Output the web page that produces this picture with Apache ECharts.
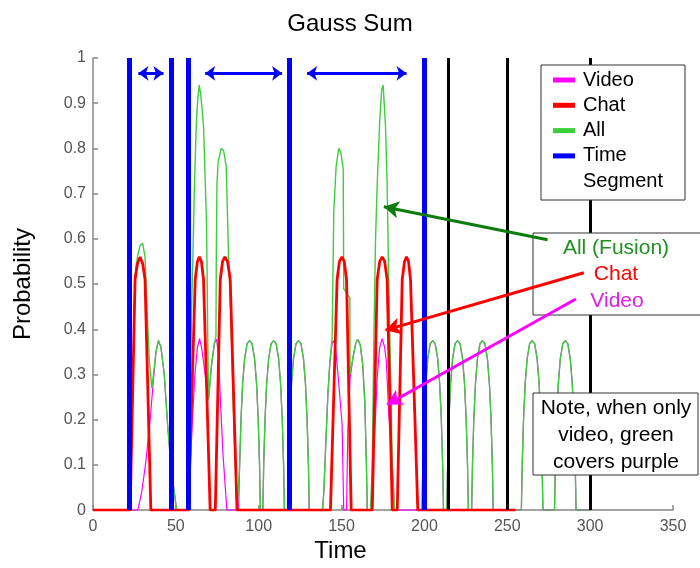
<!DOCTYPE html>
<html>
<head>
<meta charset="utf-8">
<script src="https://cdn.jsdelivr.net/npm/echarts@6/dist/echarts.min.js"></script>
<style>html,body{margin:0;padding:0;background:#fff;}#c{width:700px;height:568px;}</style>
</head>
<body>
<div id="c"></div>
<script>
// ---- data ----
const xRange = [0, 350];
const yRange = [0, 1];
const segmentTimes = [21.7, 47, 57.3, 118.3, 199.6];   // blue "Time Segment"
const blackTimes = [214.6, 250, 300];                  // black lines
const segmentSpans = [[27.4, 42.5], [67.7, 114.1], [129.2, 189.2]];
const spanLevel = 0.966;

// stretches where only video exists (All == Video)
const videoOnlyA = [
  [87.9,0],[88.5,0.1],[89.3,0.2],[90.3,0.28],[91.5,0.335],[93,0.368],[94.5,0.375],[96,0.368],[97.5,0.335],[98.7,0.28],[99.7,0.2],[100.5,0.1],[101,0],
  [102.5,0],[103,0.1],[103.8,0.2],[104.8,0.28],[106,0.335],[107.5,0.368],[109,0.375],[110.5,0.368],[112,0.335],[113.2,0.28],[114.2,0.2],[115,0.1],[115.5,0],
  [117.5,0],[118,0.1],[118.8,0.2],[119.8,0.28],[121,0.335],[122.5,0.368],[124,0.375],[125.5,0.368],[127,0.335],[128.2,0.28],[129.2,0.2],[130,0.1],[130.5,0]
];
const videoOnlyB = [
  [198.5,0],[199,0.1],[199.8,0.2],[200.8,0.28],[202,0.335],[203.5,0.368],[205,0.375],[206.5,0.368],[208,0.335],[209.2,0.28],[210.2,0.2],[211,0.1],[211.5,0],
  [213.5,0],[214,0.1],[214.8,0.2],[215.8,0.28],[217,0.335],[218.5,0.368],[220,0.375],[221.5,0.368],[223,0.335],[224.2,0.28],[225.2,0.2],[226,0.1],[226.5,0],
  [228.5,0],[229,0.1],[229.8,0.2],[230.8,0.28],[232,0.335],[233.5,0.368],[235,0.375],[236.5,0.368],[238,0.335],[239.2,0.28],[240.2,0.2],[241,0.1],[241.5,0],
  [258.5,0],[259,0.1],[259.8,0.2],[260.8,0.28],[262,0.335],[263.5,0.368],[265,0.375],[266.5,0.368],[268,0.335],[269.2,0.28],[270.2,0.2],[271,0.1],[271.5,0],
  [278.5,0],[279,0.1],[279.8,0.2],[280.8,0.28],[282,0.335],[283.5,0.368],[285,0.375],[286.5,0.368],[288,0.335],[289.2,0.28],[290.2,0.2],[291,0.1],[291.5,0],
  [300,0]
];

const videoData = [
  [0,0],[27,0],[29.4,0.04],[32,0.11],[34.5,0.2],[36.5,0.29],[38,0.35],[39.5,0.375],[41,0.36],[43,0.3],[45,0.19],[47,0.1],[49,0.04],[50.5,0],
  [57,0],[58.5,0.08],[60,0.2],[61.5,0.3],[63,0.36],[64.3,0.379],[65.5,0.36],[67,0.32],[68.6,0.27],[69.7,0.245],[71.5,0.32],[73.3,0.37],[74.6,0.378],[75.8,0.34],[76.8,0.25],[78.5,0.12],[80.8,0],
  ...videoOnlyA,
  [138.5,0],[139.3,0.04],[140.5,0.15],[141.8,0.26],[143,0.33],[144.3,0.37],[145.3,0.375],[146.5,0.355],[148.3,0.28],[150.3,0.19],[151.3,0],
  [153,0],[153.8,0.18],[155.1,0.29],[157,0.34],[158.5,0.368],[159.8,0.378],[161.3,0.365],[162.8,0.32],[164,0.24],[165,0.1],[165.5,0],
  [167.5,0],[169,0.1],[170.5,0.21],[171.5,0.295],[173,0.36],[174.5,0.379],[176,0.36],[177,0.33],[178.5,0.21],[180.6,0.1],[182,0],
  ...videoOnlyB
];

const chatData = [
  [0,0],[22.4,0],[25.4,0.51],[26.8,0.545],[28.4,0.56],[30,0.545],[31.4,0.51],[34.9,0],
  [57.6,0],[61.7,0.51],[63,0.55],[64.2,0.56],[65.4,0.55],[66.7,0.51],[70.7,0],
  [73.8,0],[76.8,0.51],[78.2,0.55],[79.6,0.56],[81.2,0.55],[82.8,0.51],[86.9,0],
  [143.3,0],[147.3,0.51],[148.7,0.55],[150.2,0.56],[151.6,0.55],[153,0.51],[155.8,0],
  [168.5,0],[171.5,0.51],[173,0.55],[174.5,0.56],[176,0.55],[177.5,0.51],[180.6,0],
  [183.6,0],[186.6,0.51],[188,0.55],[189.2,0.56],[190.4,0.55],[191.6,0.51],[196,0],
  [255,0]
];

const allData = [
  [0,0],[22.4,0],[24,0.26],[25.4,0.52],[26.8,0.56],[28.4,0.585],[30,0.59],[31.4,0.56],[32.5,0.45],[34,0.33],[35.5,0.27],[36.5,0.3],[38,0.35],[39.5,0.375],[41,0.36],[43,0.3],[45,0.19],[47,0.1],[49,0.04],[50.5,0],
  [57.6,0],[58.5,0.2],[59.5,0.45],[60.3,0.56],[61.1,0.7],[62.3,0.85],[63.2,0.91],[64.1,0.94],[65,0.92],[66.7,0.85],[68.3,0.66],[68.6,0.61],[69.2,0.4],[69.7,0.245],[71.5,0.32],[73.3,0.37],[74.2,0.385],[74.4,0.56],[74.8,0.72],[75.5,0.77],[77.4,0.8],[78.8,0.795],[80.4,0.76],[81.8,0.56],[83,0.45],[84.5,0.25],[85.8,0.1],[86.9,0],
  ...videoOnlyA,
  [138.5,0],[139.3,0.04],[140.5,0.15],[141.8,0.26],[143,0.33],[144.3,0.38],[144.9,0.55],[145.3,0.66],[146.7,0.76],[148.3,0.8],[149.6,0.79],[151,0.755],[151.3,0.49],[153,0.48],[155,0.47],[155.1,0.3],[157,0.34],[158.5,0.368],[159.8,0.378],[161.3,0.365],[162.8,0.32],[164,0.24],[165,0.1],[165.5,0],
  [167.5,0],[168.5,0.1],[169.5,0.38],[170.5,0.6],[171.5,0.72],[173,0.86],[174.2,0.93],[175.1,0.94],[176.5,0.85],[177.5,0.72],[178.5,0.49],[179.5,0.32],[180.6,0.1],[182,0],
  [183.6,0],[186.6,0.51],[188,0.55],[189.2,0.56],[190.4,0.55],[191.6,0.51],[196,0],
  ...videoOnlyB
];

// annotation arrows (data coords): [start, end]
const annoArrows = [
  {color: '#0d7d0d', from: [274.3, 0.598], to: [175.5, 0.671]},
  {color: '#ff0000', from: [296.2, 0.525], to: [176.5, 0.398]},
  {color: '#ff00ff', from: [291.4, 0.467], to: [177.5, 0.2335]}
];

// ---- chart ----
const FONT = 'Liberation Sans, Arial, sans-serif';
const chart = echarts.init(document.getElementById('c'), null, {renderer: 'canvas'});
const noLabel = {show: false};
const option = {
  animation: false,
  backgroundColor: '#fff',
  title: {text: 'Gauss Sum', left: 'center', top: 7,
    textStyle: {fontFamily: FONT, fontSize: 24, fontWeight: 'normal', color: '#000'}},
  grid: {left: 93, right: 27, top: 58, bottom: 54},
  xAxis: {
    type: 'value', min: xRange[0], max: xRange[1], interval: 50,
    name: 'Time', nameLocation: 'middle', nameGap: 24,
    nameTextStyle: {fontFamily: FONT, fontSize: 24, color: '#000', padding: [0, 85, 0, 0]},
    axisLine: {lineStyle: {color: '#888', width: 1.5}},
    axisTick: {inside: true, length: 5, lineStyle: {color: '#888', width: 1.5}},
    axisLabel: {fontFamily: FONT, fontSize: 16, color: '#555', margin: 8},
    splitLine: {show: false}
  },
  yAxis: {
    type: 'value', min: yRange[0], max: yRange[1], interval: 0.1,
    name: 'Probability', nameLocation: 'middle', nameGap: 58,
    nameTextStyle: {fontFamily: FONT, fontSize: 24, color: '#000'},
    axisLine: {show: true, lineStyle: {color: '#888', width: 1.5}},
    axisTick: {show: true, inside: true, length: 5, lineStyle: {color: '#888', width: 1.5}},
    axisLabel: {fontFamily: FONT, fontSize: 16, color: '#555', margin: 7},
    splitLine: {show: false}
  },
  legend: {
    orient: 'vertical', left: 553, top: 70, padding: 0, itemGap: 5.3,
    itemWidth: 22, itemHeight: 5, selectedMode: false, z: 200,
    textStyle: {fontFamily: FONT, fontSize: 20, color: '#000', lineHeight: 20, padding: [0, 0, 0, 3]},
    formatter: n => n === 'Time Segment' ? 'Time' : n,
    data: [
      {name: 'Video', icon: 'rect'}, {name: 'Chat', icon: 'rect'},
      {name: 'All', icon: 'rect'}, {name: 'Time Segment', icon: 'rect'}
    ]
  },
  series: [
    {name: 'Video', type: 'line', data: videoData, showSymbol: false, z: 2,
      color: '#ff00ff', lineStyle: {color: '#ff00ff', width: 1.2}, itemStyle: {color: '#ff00ff'}},
    {name: 'All', type: 'line', data: allData, showSymbol: false, z: 3,
      color: '#3ccf3c', lineStyle: {color: '#3ccf3c', width: 1.4}, itemStyle: {color: '#3ccf3c'}},
    {name: 'Chat', type: 'line', data: chatData, showSymbol: false, z: 4,
      color: '#ff0000', lineStyle: {color: '#ff0000', width: 2.8}, itemStyle: {color: '#ff0000'}},
    {name: 'Time Segment', type: 'line', data: [], z: 5,
      color: '#0000ff', itemStyle: {color: '#0000ff'}, lineStyle: {color: '#0000ff'},
      markLine: {silent: true, symbol: 'none', label: noLabel, z: 5,
        lineStyle: {color: '#0000ff', width: 5, type: 'solid'},
        data: segmentTimes.map(t => ({xAxis: t}))}},
    {name: 'black', type: 'line', data: [], z: 5,
      markLine: {silent: true, symbol: 'none', label: noLabel, z: 5,
        lineStyle: {color: '#000', width: 3, type: 'solid'},
        data: blackTimes.map(t => ({xAxis: t}))}},
    {name: 'spans', type: 'line', data: [], z: 6,
      markLine: {silent: true, symbol: ['arrow', 'arrow'], symbolSize: [11, 10], label: noLabel, z: 6,
        lineStyle: {color: '#0000ff', width: 3, type: 'solid'},
        data: segmentSpans.map(s => [{coord: [s[0], spanLevel]}, {coord: [s[1], spanLevel]}])}},
    ...annoArrows.map((a, i) => ({
      name: 'anno' + i, type: 'line', data: [], z: 150,
      markLine: {silent: true, symbol: ['none', 'arrow'], symbolSize: [13, 15], label: noLabel, z: 150,
        lineStyle: {color: a.color, width: 3, type: 'solid'},
        data: [[{coord: a.from}, {coord: a.to}]]}
    }))
  ],
  graphic: [
    {type: 'rect', z: 100, shape: {x: 541, y: 65, width: 144, height: 135},
      style: {fill: '#fff', stroke: '#333', lineWidth: 1}},
    {type: 'text', z: 201, left: 583, top: 171,
      style: {text: 'Segment', fontFamily: FONT, fontSize: 20, fill: '#000'}},
    {type: 'rect', z: 100, shape: {x: 533, y: 233, width: 170, height: 82},
      style: {fill: '#fff', stroke: '#333', lineWidth: 1}},
    {type: 'text', z: 160, x: 616, y: 248,
      style: {text: 'All (Fusion)', fontFamily: FONT, fontSize: 21, fill: '#1f8f1f', textAlign: 'center', textVerticalAlign: 'middle'}},
    {type: 'text', z: 160, x: 616, y: 274,
      style: {text: 'Chat', fontFamily: FONT, fontSize: 21, fill: '#ff0000', textAlign: 'center', textVerticalAlign: 'middle'}},
    {type: 'text', z: 160, x: 617, y: 301,
      style: {text: 'Video', fontFamily: FONT, fontSize: 21, fill: '#e020e0', textAlign: 'center', textVerticalAlign: 'middle'}},
    {type: 'rect', z: 100, shape: {x: 533, y: 393, width: 165, height: 82},
      style: {fill: '#fff', stroke: '#333', lineWidth: 1}},
    {type: 'text', z: 160, x: 616, y: 408,
      style: {text: 'Note, when only', fontFamily: FONT, fontSize: 21, fill: '#000', textAlign: 'center', textVerticalAlign: 'middle'}},
    {type: 'text', z: 160, x: 616, y: 435,
      style: {text: 'video, green', fontFamily: FONT, fontSize: 21, fill: '#000', textAlign: 'center', textVerticalAlign: 'middle'}},
    {type: 'text', z: 160, x: 616, y: 462,
      style: {text: 'covers purple', fontFamily: FONT, fontSize: 21, fill: '#000', textAlign: 'center', textVerticalAlign: 'middle'}}
  ]
};
chart.setOption(option);
</script>
</body>
</html>
